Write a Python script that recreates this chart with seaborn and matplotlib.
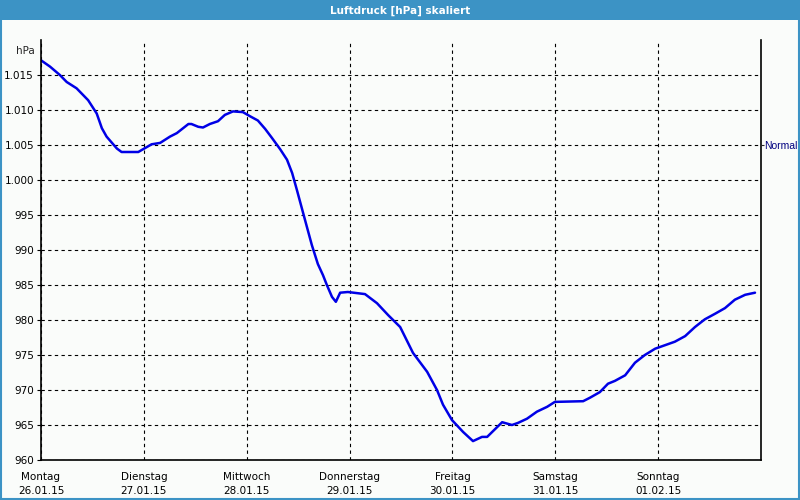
import matplotlib
matplotlib.use("Agg")
import matplotlib.pyplot as plt
import matplotlib.patches as mpatches
import pandas as pd
import seaborn as sns

# data: hours since Monday 00:00, pressure in hPa
hours = [0, 2.1, 4.4, 6.0, 8.3, 11.0, 13.0, 14.2, 15.3, 17.7, 18.8, 22.7, 25.8,
         27.8, 30.1, 31.7, 34.4, 35.1, 36.7, 37.8, 39.4, 41.3, 42.9, 44.8, 47.1,
         48.8, 50.6, 52.3, 53.9, 55.8, 57.4, 58.6, 59.7, 61.6, 63.2, 64.6, 65.8,
         66.7, 67.9, 68.8, 69.8, 71.6, 75.6, 78.4, 81.0, 83.8, 86.8, 90.1, 92.4,
         93.8, 95.9, 98.5, 100.8, 102.9, 104.1, 107.6, 109.9, 111.3, 113.4, 115.7,
         118.1, 119.9, 126.5, 128.1, 130.4, 132.3, 133.9, 136.3, 138.6, 140.9,
         143.3, 145.6, 147.9, 150.3, 152.6, 154.9, 157.3, 159.6, 161.9, 164.3, 166.6]
pressure = [1017.1, 1016.2, 1015.0, 1014.0, 1013.1, 1011.4, 1009.5, 1007.4, 1006.2,
            1004.5, 1004.0, 1004.0, 1005.1, 1005.3, 1006.2, 1006.7, 1008.0, 1008.0,
            1007.6, 1007.5, 1008.0, 1008.4, 1009.3, 1009.8, 1009.7, 1009.1, 1008.5,
            1007.3, 1006.0, 1004.4, 1002.9, 1001.0, 998.6, 994.3, 990.7, 988.0,
            986.4, 985.0, 983.3, 982.6, 983.9, 984.0, 983.7, 982.4, 980.7, 979.0,
            975.3, 972.6, 970.0, 967.9, 965.7, 964.0, 962.7, 963.3, 963.3, 965.4,
            965.0, 965.3, 965.9, 966.9, 967.6, 968.3, 968.4, 968.9, 969.7, 970.9,
            971.3, 972.1, 973.9, 975.0, 975.9, 976.4, 976.9, 977.7, 979.0, 980.1,
            980.9, 981.7, 982.9, 983.6, 983.9]

days = ["Montag", "Dienstag", "Mittwoch", "Donnerstag", "Freitag", "Samstag", "Sonntag"]
dates = ["26.01.15", "27.01.15", "28.01.15", "29.01.15", "30.01.15", "31.01.15", "01.02.15"]
yticks = [960, 965, 970, 975, 980, 985, 990, 995, 1000, 1005, 1010, 1015]

df = pd.DataFrame({"h": hours, "p": pressure})

sns.set_style("white")
plt.rcParams["font.family"] = ["DejaVu Sans"]
plt.rcParams["font.size"] = 7.5

bg = "#fafcfa"
blue_bar = "#3c93c5"
fig = plt.figure(figsize=(8, 5), dpi=100, facecolor=bg)

# title bar and frame
fig.patches.append(mpatches.Rectangle((0, 0.96), 1, 0.04, transform=fig.transFigure,
                                      facecolor=blue_bar, edgecolor="none", zorder=0))
fig.patches.append(mpatches.Rectangle((0.001, 0.002), 0.998, 0.996, transform=fig.transFigure,
                                      facecolor="none", edgecolor=blue_bar, lw=1.5, zorder=0))
fig.text(0.5, 0.979, "Luftdruck [hPa] skaliert", color="white", fontweight="bold",
         ha="center", va="center", fontsize=7.5)

ax = fig.add_axes([0.05125, 0.08, 0.9, 0.84])
ax.set_facecolor(bg)
sns.lineplot(data=df, x="h", y="p", ax=ax, color="#0000e6", linewidth=1.8)

ax.set_xlim(0, 168)
ax.set_ylim(960, 1020)
ax.set_xticks([24 * i for i in range(7)])
ax.set_xticklabels([f"{d}\n{t}" for d, t in zip(days, dates)], linespacing=1.5)
ax.set_yticks(yticks)
ax.set_yticklabels([f"{v:,}".replace(",", ".") for v in yticks])
ax.set_xlabel("")
ax.set_ylabel("")
ax.tick_params(axis="both", length=3, width=0.8, colors="black", pad=2)
ax.tick_params(axis="x", pad=6)
ax.grid(True, color="black", linestyle=(0, (3, 3)), linewidth=0.8)
for s in ["left", "right", "bottom"]:
    ax.spines[s].set_color("black")
    ax.spines[s].set_linewidth(1.2)
ax.spines["top"].set_visible(False)
ax.text(-0.008, 0.975, "hPa", transform=ax.transAxes, ha="right", va="center")

ax2 = ax.twinx()
ax2.set_ylim(960, 1020)
ax2.set_yticks([1005])
ax2.set_yticklabels(["Normal"], color="#000080", family="Liberation Sans", fontsize=7.5)
ax2.tick_params(axis="y", length=2, width=0.8, pad=0.5)
for s in ax2.spines.values():
    s.set_visible(False)

fig.savefig("out.png", dpi=100, facecolor=bg)
